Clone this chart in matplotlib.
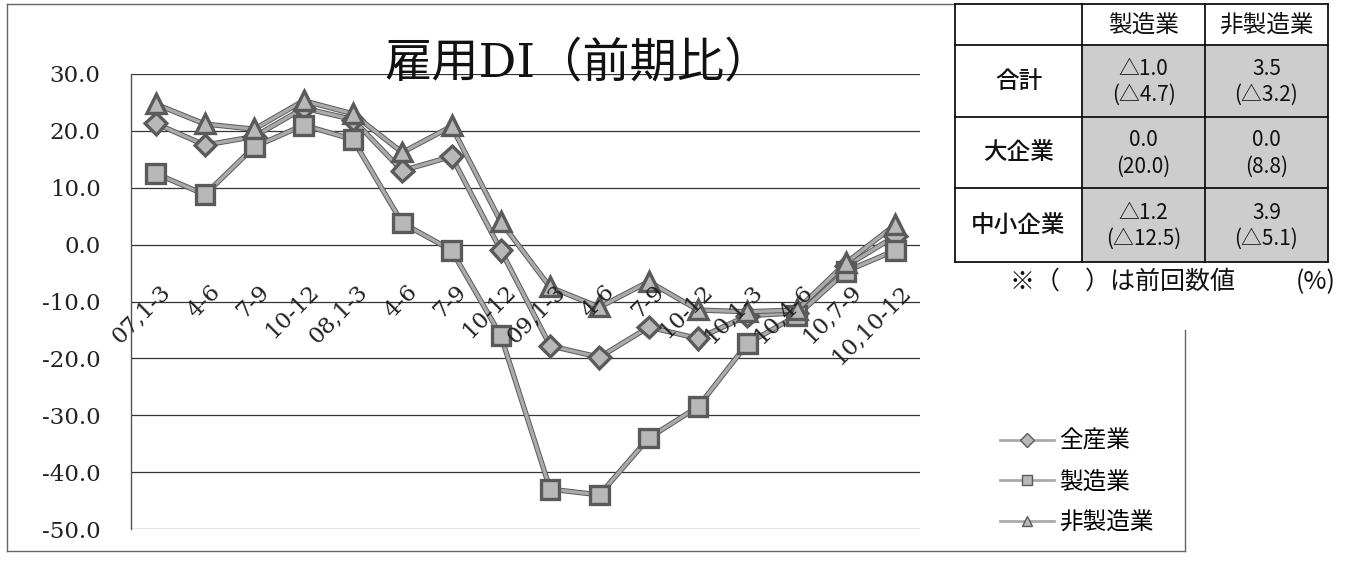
import matplotlib
matplotlib.use("Agg")
import matplotlib.pyplot as plt
import matplotlib.patheffects as pe
from matplotlib.lines import Line2D
from matplotlib.patches import Rectangle

# ---------------- data ----------------
categories = ["07,1-3", "4-6", "7-9", "10-12", "08,1-3", "4-6", "7-9", "10-12",
              "09,1-3", "4-6", "7-9", "10-12", "10,1-3", "10,4-6", "10,7-9", "10,10-12"]
all_industry = [21.3, 17.5, 19.0, 24.0, 22.0, 13.0, 15.5, -1.0,
                -17.8, -19.8, -14.5, -16.5, -12.5, -12.0, -3.8, 1.5]
manufacturing = [12.5, 8.8, 17.2, 21.0, 18.5, 3.8, -1.0, -16.0,
                 -43.0, -44.0, -34.0, -28.5, -17.4, -12.5, -4.7, -1.0]
non_manufacturing = [24.7, 21.2, 20.3, 25.3, 23.0, 16.2, 20.8, 4.0,
                     -7.5, -11.0, -6.5, -11.5, -11.8, -11.5, -3.2, 3.5]
series_names = ["全産業", "製造業", "非製造業"]
yticks = [30, 20, 10, 0, -10, -20, -30, -40, -50]
ytick_labels = ["30.0", "20.0", "10.0", "0.0", "-10.0", "-20.0", "-30.0", "-40.0", "-50.0"]
title = "雇用DI（前期比）"

table_cols = ["製造業", "非製造業"]
table_rows = ["合計", "大企業", "中小企業"]
table_current = [["△1.0", "3.5"], ["0.0", "0.0"], ["△1.2", "3.9"]]
table_prev = [["(△4.7)", "(△3.2)"], ["(20.0)", "(8.8)"], ["(△12.5)", "(△5.1)"]]
note_text = "※（　）は前回数値"
unit_text = "(%)"

# ---------------- figure ----------------
W, H = 1349, 562
fig = plt.figure(figsize=(W / 100, H / 100), dpi=100)
fig.patch.set_facecolor("white")

serif = ["DejaVu Serif", "Noto Sans CJK JP"]
sans = ["Noto Sans CJK JP", "DejaVu Sans"]

def px(x0, y0, x1, y1):
    return [x0 / W, 1 - y1 / H, (x1 - x0) / W, (y1 - y0) / H]

ax = fig.add_axes(px(131, 74, 920, 529))
ax.set_xlim(-0.5, len(categories) - 0.5)
ax.set_ylim(-50, 30)
ax.set_facecolor("none")
for s in ["top", "right", "bottom"]:
    ax.spines[s].set_visible(False)
ax.spines["left"].set_color("#555555")
ax.spines["left"].set_linewidth(1.0)
ax.spines["left"].set_linestyle((0, (2, 1)))

ax.set_yticks(yticks)
ax.set_yticklabels(ytick_labels, fontfamily=serif, fontsize=16.5, color="#222222")
ax.tick_params(axis="y", length=0, pad=22)
ax.set_xticks([])
ax.yaxis.grid(True, color="#333333", linewidth=0.9)
ax.set_axisbelow(True)

x = list(range(len(categories)))
outline = [pe.Stroke(linewidth=3.8, foreground="#5a5a5a"), pe.Normal()]
styles = [
    (all_industry, "D", 9.5),
    (manufacturing, "s", 12),
    (non_manufacturing, "^", 11.5),
]
handles = []
for (vals, mk, ms), name in zip(styles, series_names):
    ln, = ax.plot(x, vals, color="#aaaaaa", linewidth=2.4, marker=mk, markersize=ms,
                  markerfacecolor="#b8b8b8", markeredgecolor="#5a5a5a",
                  markeredgewidth=1.0, path_effects=outline, label=name,
                  clip_on=False, zorder=3)
    handles.append(ln)

for i, lab in enumerate(categories):
    ax.text(i + 0.08, -6.3, lab, rotation=45, ha="right", va="top",
            rotation_mode="anchor", fontfamily=serif, fontsize=16.5,
            color="#222222", zorder=4)

fig.text(578 / W, 1 - 76 / H, title, ha="center", va="baseline",
         fontfamily=["DejaVu Serif", "Noto Sans CJK JP"], fontsize=34, color="#111111")

leg_handles = [Line2D([0], [0], color="#aaaaaa", lw=2.0, marker=h.get_marker(),
                      markersize=7, markerfacecolor="#b8b8b8",
                      markeredgecolor="#5a5a5a") for h in handles]
fig.legend(leg_handles, series_names, loc="center left",
           bbox_to_anchor=(1000 / W, 1 - 482 / H), frameon=False,
           prop={"family": sans, "size": 17}, handlelength=2.3,
           handletextpad=0.2, labelspacing=0.75, borderpad=0, borderaxespad=0)

# ---------------- overlay (frame, table, note) ----------------
ov = fig.add_axes([0, 0, 1, 1])
ov.set_xlim(0, W)
ov.set_ylim(H, 0)
ov.axis("off")
ov.set_facecolor("none")

fc = "#666666"
ov.plot([7, 7], [4, 551], color=fc, lw=1.0)
ov.plot([7, 1185], [551, 551], color=fc, lw=1.0)
ov.plot([1185, 1185], [330, 551], color=fc, lw=1.0)
ov.plot([7, 955], [4, 4], color=fc, lw=1.0)

col_x = [955, 1082, 1205, 1328]
row_y = [4, 45, 117, 188, 262]
for r in range(3):
    for c in range(2):
        ov.add_patch(Rectangle((col_x[c + 1], row_y[r + 1]),
                               col_x[c + 2] - col_x[c + 1], row_y[r + 2] - row_y[r + 1],
                               facecolor="#cdcdcd", edgecolor="none", zorder=1))
for xx in col_x:
    ov.plot([xx, xx], [row_y[0], row_y[-1]], color="#111111", lw=1.3, zorder=2)
for yy in row_y:
    ov.plot([col_x[0], col_x[-1]], [yy, yy], color="#111111", lw=1.3, zorder=2)

for c, name in enumerate(table_cols):
    ov.text((col_x[c + 1] + col_x[c + 2]) / 2, 25, name, ha="center", va="center",
            fontfamily=sans, fontsize=17, color="#111111", zorder=3)
for r, name in enumerate(table_rows):
    ymid = (row_y[r + 1] + row_y[r + 2]) / 2
    ov.text((col_x[0] + col_x[1]) / 2, ymid, name, ha="center", va="center",
            fontfamily=sans, fontsize=17, fontweight="medium", color="#111111", zorder=3)
    for c in range(2):
        cx = (col_x[c + 1] + col_x[c + 2]) / 2
        ov.text(cx, ymid - 12, table_current[r][c], ha="center", va="center",
                fontfamily=sans, fontsize=15, color="#111111", zorder=3)
        ov.text(cx, ymid + 14, table_prev[r][c], ha="center", va="center",
                fontfamily=sans, fontsize=15, color="#111111", zorder=3)

ov.text(1010, 282, note_text, ha="left", va="center", fontfamily=sans,
        fontsize=18, color="#111111")
ov.text(1336, 282, unit_text, ha="right", va="center", fontfamily=sans,
        fontsize=18, color="#111111")

fig.savefig("out.png", dpi=100, facecolor="white")
